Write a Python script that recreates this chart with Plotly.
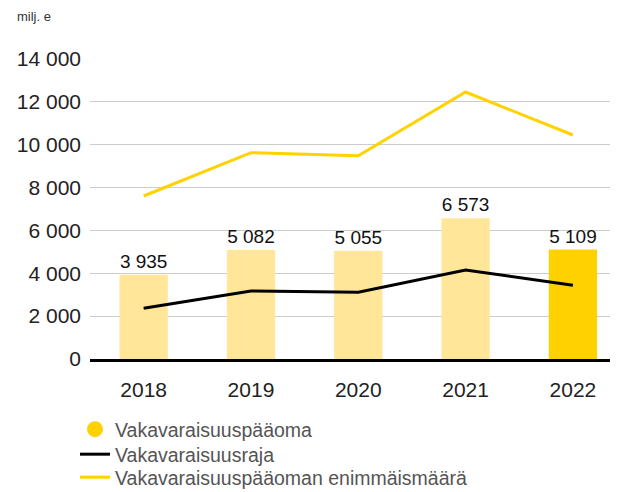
import plotly.graph_objects as go

years = ["2018", "2019", "2020", "2021", "2022"]
paaoma = [3935, 5082, 5055, 6573, 5109]
raja = [2366, 3173, 3112, 4153, 3439]
enimmais = [7606, 9627, 9487, 12459, 10453]
bar_colors = ["#FFE699", "#FFE699", "#FFE699", "#FFE699", "#FFD100"]
y_ticks = [0, 2000, 4000, 6000, 8000, 10000, 12000, 14000]

# page has 8px body margin, so figure is 610x484 placed at (8, 8)
W, H = 610, 484
ml, mr, mt, mb = 82, 0, 51, 133
PW, PH = W - ml - mr, H - mt - mb
FONT = "Liberation Sans, Arial, sans-serif"

fig = go.Figure()
fig.add_trace(go.Bar(
    x=years, y=paaoma, marker=dict(color=bar_colors, line=dict(width=0)),
    width=0.45, text=paaoma, texttemplate="%{y:,d}", textposition="outside",
    textfont=dict(size=19, color="#111111", family=FONT), cliponaxis=False,
    showlegend=False, name="Vakavaraisuuspääoma", hoverinfo="skip"))
fig.add_trace(go.Scatter(
    x=[None], y=[None], mode="markers", name="Vakavaraisuuspääoma",
    marker=dict(symbol="circle", size=20, color="#FFD100"), legend="legend"))
fig.add_trace(go.Scatter(
    x=years, y=raja, mode="lines", name="Vakavaraisuusraja",
    line=dict(color="#000000", width=3), legend="legend2"))
fig.add_trace(go.Scatter(
    x=years, y=enimmais, mode="lines", name="Vakavaraisuuspääoman enimmäismäärä",
    line=dict(color="#FFD200", width=3), legend="legend3"))


def leg(top):
    return dict(
        x=(67 - ml) / PW, y=-(top - (mt + PH)) / PH, xanchor="left", yanchor="top",
        font=dict(size=19.5, color="#555555"),
        itemwidth=30, bgcolor="rgba(0,0,0,0)")


fig.update_layout(
    width=W, height=H,
    margin=dict(l=ml, r=mr, t=mt, b=mb, autoexpand=False),
    paper_bgcolor="white", plot_bgcolor="white",
    font=dict(family=FONT, color="#222222"),
    separators=", ",
    showlegend=True,
    legend=leg(402), legend2=leg(427), legend3=leg(450),
    annotations=[dict(
        text="milj. e", xref="paper", yref="paper",
        x=(7 - ml) / PW, y=1 + (mt - 9) / PH,
        xanchor="left", yanchor="middle", showarrow=False,
        font=dict(size=13, color="#333333"))],
)
fig.update_xaxes(
    type="category", range=[-0.5, 4.42], automargin=False,
    showline=True, linecolor="#000000", linewidth=3,
    showgrid=False, ticks="", ticklabelstandoff=10, tickangle=0,
    tickfont=dict(size=21, color="#222222"))
fig.update_yaxes(
    range=[0, 14000], tickvals=y_ticks, tickformat=",d", automargin=False,
    showgrid=True, gridcolor="#CCCCCC", gridwidth=1,
    zeroline=False, showline=False, ticks="",
    ticklabelstandoff=8,
    tickfont=dict(size=21, color="#222222"))

fig.write_html("out.html")
